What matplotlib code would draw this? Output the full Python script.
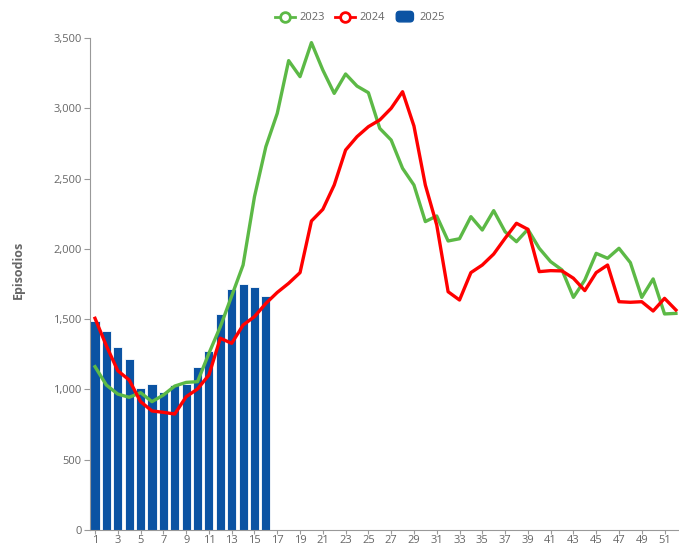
import matplotlib.pyplot as plt
from matplotlib.lines import Line2D
from matplotlib.patches import FancyBboxPatch
from matplotlib.legend_handler import HandlerPatch
from matplotlib.ticker import FuncFormatter

plt.rcParams['font.family'] = ['Open Sans', 'DejaVu Sans']

weeks = list(range(1, 53))
y2023 = [1162, 1031, 967, 944, 977, 913, 960, 1024, 1050, 1055, 1257, 1446, 1665,
         1885, 2371, 2727, 2964, 3339, 3225, 3467, 3272, 3106, 3244, 3158, 3111, 2857,
         2774, 2573, 2454, 2194, 2234, 2056, 2072, 2229, 2134, 2272, 2122, 2051, 2139,
         2004, 1909, 1850, 1655, 1778, 1968, 1933, 2004, 1902, 1655, 1786, 1537, 1541]
y2024 = [1506, 1310, 1133, 1067, 913, 847, 837, 825, 948, 1003, 1103, 1364, 1328,
         1458, 1518, 1612, 1690, 1755, 1831, 2198, 2281, 2454, 2703, 2798, 2869, 2917,
         3000, 3118, 2874, 2454, 2170, 1695, 1636, 1831, 1885, 1963, 2075, 2182, 2139,
         1838, 1845, 1843, 1791, 1703, 1831, 1885, 1624, 1620, 1624, 1558, 1648, 1565]
weeks2025 = list(range(1, 17))
y2025 = [1487, 1416, 1304, 1216, 1012, 1041, 984, 1031, 1041, 1157, 1271, 1537,
         1717, 1748, 1729, 1667]
yticks = [0, 500, 1000, 1500, 2000, 2500, 3000, 3500]

c23, c24, c25 = '#5cb946', '#ff0000', '#0b53a3'
grey = '#666666'

fig = plt.figure(figsize=(6.79, 5.48), dpi=100)
ax = fig.add_axes([90 / 679, 1 - 530 / 548, 1 - 90 / 679, (530 - 38) / 548])

# barras 2025 + lineas 2023/2024
ax.bar(weeks2025, y2025, width=0.8, color=c25, edgecolor='white', linewidth=0.6, zorder=1)
ax.plot(weeks, y2023, color=c23, lw=2.4, zorder=2)
ax.plot(weeks, y2024, color=c24, lw=2.4, zorder=3)

ax.set_xlim(0.56, 52.27)
ax.set_ylim(0, 3500)
ax.set_yticks(yticks)
ax.yaxis.set_major_formatter(FuncFormatter(lambda v, p: f'{int(v):,}'))
ax.set_xticks(weeks[::2])

for s in ['top', 'right']:
    ax.spines[s].set_visible(False)
for s in ['left', 'bottom']:
    ax.spines[s].set_color('#999999')
    ax.spines[s].set_linewidth(0.8)
ax.tick_params(axis='both', colors='#999999', labelcolor=grey, labelsize=8, length=4, width=0.8)
ax.tick_params(axis='y', pad=2)
ax.tick_params(axis='x', length=3, pad=0.5)

fig.text(18 / 679, 1 - 270 / 548, 'Episodios', rotation=90, ha='center', va='center',
         fontsize=9, fontweight='bold', color=grey)


class RoundBoxHandler(HandlerPatch):
    def create_artists(self, legend, orig_handle, xdescent, ydescent, width, height, fontsize, trans):
        p = FancyBboxPatch((-xdescent + 1, -ydescent - 1), width - 2, height + 2,
                           boxstyle='round,pad=0,rounding_size=2.5',
                           facecolor=c25, edgecolor=c25, transform=trans)
        return [p]


h23 = Line2D([], [], color=c23, lw=2, marker='o', markersize=7, markerfacecolor='white', markeredgewidth=2)
h24 = Line2D([], [], color=c24, lw=2, marker='o', markersize=7, markerfacecolor='white', markeredgewidth=2)
h25 = FancyBboxPatch((0, 0), 1, 1, facecolor=c25)
fig.legend([h23, h24, h25], ['2023', '2024', '2025'], loc='center', bbox_to_anchor=(0.53, 1 - 18 / 548),
           ncol=3, frameon=False, fontsize=8, labelcolor=grey, handlelength=1.8, handletextpad=0.4,
           columnspacing=0.9, handler_map={FancyBboxPatch: RoundBoxHandler()})

fig.savefig('out.png', dpi=100)
